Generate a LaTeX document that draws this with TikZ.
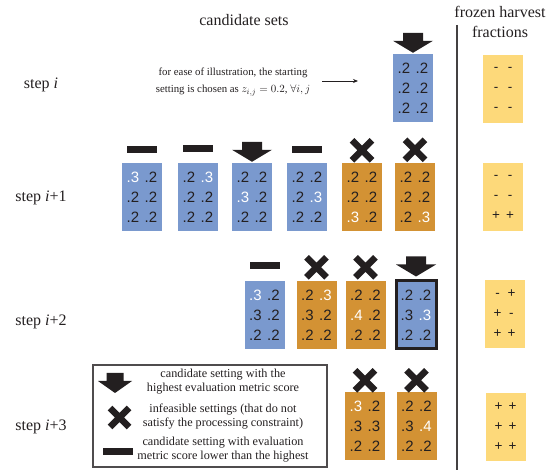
\documentclass[tikz,border=0pt]{standalone}
\usepackage{fontspec}
\setmainfont{Liberation Serif}
\newfontfamily\sansf{Liberation Sans}
\usetikzlibrary{arrows.meta}
\definecolor{cblue}{HTML}{7A99CE}
\definecolor{corange}{HTML}{D39234}
\definecolor{cyellow}{HTML}{FDD97A}
\definecolor{ink}{HTML}{231F20}
\newcommand\W[1]{\textcolor{white}{#1}}
\newcommand\vrow[2]{\makebox[18pt]{#1}\makebox[18pt]{#2}}
\newcommand\vals[6]{\vrow{#1}{#2}\\\vrow{#3}{#4}\\\vrow{#5}{#6}}
\newcommand\frow[2]{\makebox[14pt]{#1}\makebox[14pt]{#2}}
\newcommand\fvals[6]{\frow{#1}{#2}\\\frow{#3}{#4}\\\frow{#5}{#6}}
\begin{document}
\begin{tikzpicture}[x=1pt,y=-1pt,
  cell/.style={minimum width=40pt,minimum height=68pt,inner sep=0pt,text=ink,align=center,
    font=\sansf\fontsize{15}{20}\selectfont},
  bluecell/.style={cell,fill=cblue},
  orangecell/.style={cell,fill=corange},
  yellowcell/.style={cell,fill=cyellow,font=\sansf\fontsize{13.5}{20}\selectfont},
  steplabel/.style={font=\fontsize{16}{20}\selectfont,text=ink},
  legtext/.style={font=\fontsize{12.2}{14}\selectfont,text=ink,align=center},
  bestarrow/.pic={\fill[ink] (0,0) -- (-20,-12) -- (-10,-12) -- (-10,-20) -- (10,-20) -- (10,-12) -- (20,-12) -- cycle;},
  xmark/.pic={\draw[ink,line width=6.5pt,line cap=butt] (-10,-10) -- (10,10) (-10,10) -- (10,-10);},
  dashmark/.pic={\fill[ink] (-15,-3.5) rectangle (15,3.5);}
]
\useasboundingbox (0,0) rectangle (555,473);

% headers
\node[steplabel] (hcand) at (244,20) {candidate sets};
\node[steplabel,align=center] (hfroz) at (500,22) {frozen harvest\\fractions};
\coordinate (vtop) at (457,25);
\coordinate (vbot) at (457,470);
\draw[ink!85,line width=1.4pt] (vtop) -- (vbot);

% step labels
\node[steplabel] (si0) at (41,85) {step \textit{i}};
\node[steplabel] (si1) at (41,198) {step \textit{i}+1};
\node[steplabel] (si2) at (41,322) {step \textit{i}+2};
\node[steplabel] (si3) at (41,427) {step \textit{i}+3};

% step i
\node[font=\fontsize{10.8}{17}\selectfont,text=ink,align=center] (note) at (233,82)
  {for ease of illustration, the starting\\setting is chosen as $z_{i,j}=0.2$, $\forall i,j$};
\coordinate (na) at (322,81);
\coordinate (nb) at (358,81);
\draw[ink,line width=0.8pt,-{Stealth[length=5pt,width=4pt]}] (na) -- (nb);
\node[bluecell] (a1) at (413,88) {\vals{.2}{.2}{.2}{.2}{.2}{.2}};
\pic at ([yshift=1pt]a1.north) {bestarrow};

% step i+1
\node[bluecell] (b1) at (142,197) {\vals{\W{.3}}{.2}{.2}{.2}{.2}{.2}};
\node[bluecell] (b2) at (198,197) {\vals{.2}{\W{.3}}{.2}{.2}{.2}{.2}};
\node[bluecell] (b3) at (252,197) {\vals{.2}{.2}{\W{.3}}{.2}{.2}{.2}};
\node[bluecell] (b4) at (307,197) {\vals{.2}{.2}{.2}{\W{.3}}{.2}{.2}};
\node[orangecell] (b5) at (362,197) {\vals{.2}{.2}{.2}{.2}{\W{.3}}{.2}};
\node[orangecell] (b6) at (415,197) {\vals{.2}{.2}{.2}{.2}{.2}{\W{.3}}};
\pic at ([yshift=13pt]b1.north) {dashmark};
\pic at ([yshift=14pt]b2.north) {dashmark};
\pic at ([yshift=1pt]b3.north) {bestarrow};
\pic at ([yshift=13pt]b4.north) {dashmark};
\pic at ([yshift=12.5pt]b5.north) {xmark};
\pic at ([yshift=13pt]b6.north) {xmark};

% step i+2
\node[bluecell] (c1) at (264.5,315) {\vals{\W{.3}}{.2}{.3}{.2}{.2}{.2}};
\node[orangecell] (c2) at (316.5,315) {\vals{.2}{\W{.3}}{.3}{.2}{.2}{.2}};
\node[orangecell] (c3) at (365.5,315) {\vals{.2}{.2}{\W{.4}}{.2}{.2}{.2}};
\node[bluecell,draw=ink,line width=3pt] (c4) at (416,315) {\vals{.2}{.2}{.3}{\W{.3}}{.2}{.2}};
\pic at ([yshift=15.5pt]c1.north) {dashmark};
\pic at ([yshift=13.5pt]c2.north) {xmark};
\pic at ([yshift=13.5pt]c3.north) {xmark};
\pic at ([yshift=3pt]c4.north) {bestarrow};

% step i+3
\node[orangecell] (d1) at (365,426) {\vals{\W{.3}}{.2}{.3}{.3}{.2}{.2}};
\node[orangecell] (d2) at (416.5,426) {\vals{.2}{.2}{.3}{\W{.4}}{.2}{.2}};
\pic at ([yshift=11.5pt]d1.north) {xmark};
\pic at ([yshift=11.5pt]d2.north) {xmark};

% frozen fractions
\node[yellowcell] (f1) at (503,89) {\fvals{-}{-}{-}{-}{-}{-}};
\node[yellowcell] (f2) at (503,197) {\fvals{-}{-}{-}{-}{+}{+}};
\node[yellowcell] (f3) at (504.5,314) {\fvals{-}{+}{+}{-}{+}{+}};
\node[yellowcell] (f4) at (505.5,427) {\fvals{+}{+}{+}{+}{+}{+}};

% legend
\node[draw=ink!80,line width=1.2pt,minimum width=234pt,minimum height=102pt,inner sep=0pt] (leg) at (210,416) {};
\pic[xscale=0.85] at (115,393) {bestarrow};
\pic[scale=0.95] at (119.5,417.5) {xmark};
\pic at (118,451.5) {dashmark};
\node[legtext] (l1) at (223,382) {candidate setting with the\\highest evaluation metric score};
\node[legtext] (l2) at (223,417) {infeasible settings (that do not\\satisfy the processing constraint)};
\node[legtext] (l3) at (223,450) {candidate setting with evaluation\\metric score lower than the highest};
\end{tikzpicture}
\end{document}
